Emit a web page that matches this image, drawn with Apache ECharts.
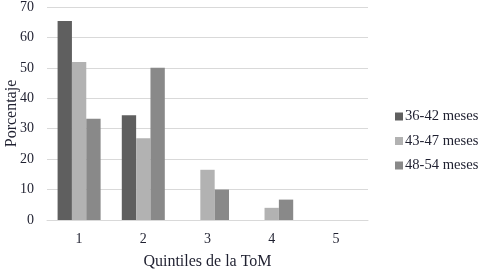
<!DOCTYPE html>
<html><head><meta charset="utf-8">
<script src="https://cdn.jsdelivr.net/npm/echarts@6/dist/echarts.min.js"></script>
<style>html,body{margin:0;padding:0;background:#fff}#c{width:483px;height:272px}</style>
</head><body><div id="c"></div>
<script>
var categories = ['1','2','3','4','5'];
var seriesNames = ['36-42 meses','43-47 meses','48-54 meses'];
var s1 = [65.4, 34.4, 0, 0, 0];
var s2 = [51.9, 26.9, 16.5, 4, 0];
var s3 = [33.3, 50, 10, 6.7, 0];
var yTicks = [0,10,20,30,40,50,60,70];
var colors = ['#5f5f5f','#b2b2b2','#898989'];
var font = 'Liberation Serif';
var txt = '#1f2030';
var chart = echarts.init(document.getElementById('c'));
chart.setOption({
  animation:false,
  textStyle:{fontFamily:font},
  grid:{left:47,right:115,top:7,bottom:52,containLabel:false,outerBoundsMode:'none'},
  legend:{orient:'vertical',left:390,top:104,itemWidth:8,itemHeight:8,itemGap:9.5,icon:'rect',
    textStyle:{fontFamily:font,fontSize:14.6,color:txt,padding:[0,0,0,-3]},
    data:seriesNames},
  xAxis:{type:'category',data:categories,name:'Quintiles de la ToM',nameLocation:'middle',nameGap:34,nameMoveOverlap:false,
    nameTextStyle:{fontFamily:font,fontSize:16,color:txt},
    axisLine:{lineStyle:{color:'#d9d9d9'}},axisTick:{show:false},
    axisLabel:{fontFamily:font,fontSize:14,color:txt,margin:12}},
  yAxis:{type:'value',min:yTicks[0],max:yTicks[yTicks.length-1],interval:10,name:'Porcentaje',nameLocation:'middle',nameGap:27,nameMoveOverlap:false,
    nameTextStyle:{fontFamily:font,fontSize:16,color:txt},
    axisLine:{show:false},axisTick:{show:false},
    splitLine:{lineStyle:{color:'#d9d9d9'}},
    axisLabel:{fontFamily:font,fontSize:14,color:txt,margin:13}},
  series:[
    {name:seriesNames[0],type:'bar',data:s1,itemStyle:{color:colors[0]},barGap:'0%',barCategoryGap:'33%'},
    {name:seriesNames[1],type:'bar',data:s2,itemStyle:{color:colors[1]},barGap:'0%',barCategoryGap:'33%'},
    {name:seriesNames[2],type:'bar',data:s3,itemStyle:{color:colors[2]},barGap:'0%',barCategoryGap:'33%'}
  ]
});
</script></body></html>
